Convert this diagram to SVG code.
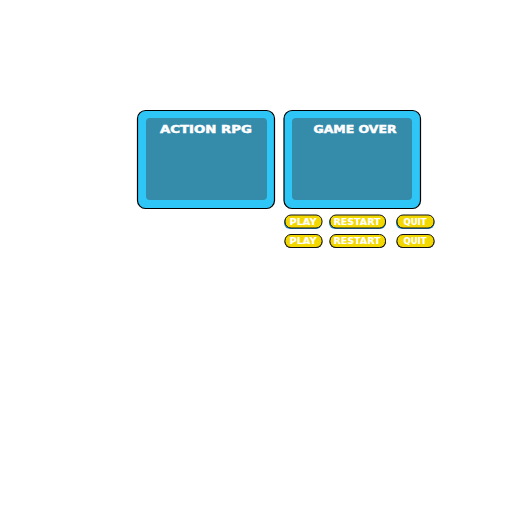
<svg xmlns="http://www.w3.org/2000/svg" width="512" height="512" viewBox="0 0 512 512">
<style>
.outer{fill:#2EC6F6;stroke:#000;stroke-width:1.2}
.inner{fill:#358BAA}
.title{font-family:"DejaVu Sans","Liberation Sans",sans-serif;font-weight:bold;font-size:11px;fill:#fff;stroke:#fff;stroke-width:0.5}
.btn{fill:#F3D800;stroke:#111;stroke-width:1}
.shadowB{fill:#2A8FC8}
.shadowD{fill:#333}
.lbl{font-family:"DejaVu Sans","Liberation Sans",sans-serif;font-weight:bold;font-size:8.5px;fill:#fff;stroke:#fff;stroke-width:0.2}
</style>
<rect width="512" height="512" fill="#fff"/>
<g id="panel-action-rpg">
<rect class="outer" x="137.5" y="110.5" width="137" height="98" rx="8"/>
<rect class="inner" x="146" y="118" width="121" height="82" rx="4"/>
<text class="title" x="206" y="132.5" text-anchor="middle" textLength="92" lengthAdjust="spacingAndGlyphs">ACTION RPG</text>
</g>
<g id="panel-game-over">
<rect class="outer" x="284" y="110.5" width="136.5" height="98" rx="8"/>
<rect class="inner" x="292" y="118" width="120" height="82" rx="4"/>
<text class="title" x="355" y="132.5" text-anchor="middle" textLength="83" lengthAdjust="spacingAndGlyphs">GAME OVER</text>
</g>
<g id="btn-play-1">
<rect class="shadowB" x="284" y="216" width="38" height="13" rx="6"/>
<rect class="btn" x="285" y="215" width="37" height="13" rx="6"/>
<text class="lbl" x="303" y="224.5" text-anchor="middle" textLength="27" lengthAdjust="spacingAndGlyphs">PLAY</text>
</g>
<g id="btn-restart-1">
<rect class="shadowB" x="329" y="216" width="57" height="13" rx="6"/>
<rect class="btn" x="330" y="215" width="55.5" height="13" rx="6"/>
<text class="lbl" x="357" y="224.5" text-anchor="middle" textLength="47" lengthAdjust="spacingAndGlyphs">RESTART</text>
</g>
<g id="btn-quit-1">
<rect class="shadowB" x="396" y="216" width="38.5" height="13" rx="6"/>
<rect class="btn" x="397" y="215" width="37" height="13" rx="6"/>
<text class="lbl" x="415" y="224.5" text-anchor="middle" textLength="23" lengthAdjust="spacingAndGlyphs">QUIT</text>
</g>
<g id="btn-play-2">
<rect class="shadowD" x="284.5" y="235.5" width="38" height="12.5" rx="6"/>
<rect class="btn" x="285" y="234.5" width="37" height="13" rx="6"/>
<text class="lbl" x="303" y="244" text-anchor="middle" textLength="27" lengthAdjust="spacingAndGlyphs">PLAY</text>
</g>
<g id="btn-restart-2">
<rect class="shadowD" x="329.5" y="235.5" width="56.5" height="12.5" rx="6"/>
<rect class="btn" x="330" y="234.5" width="55.5" height="13" rx="6"/>
<text class="lbl" x="357" y="244" text-anchor="middle" textLength="47" lengthAdjust="spacingAndGlyphs">RESTART</text>
</g>
<g id="btn-quit-2">
<rect class="shadowD" x="396.5" y="235.5" width="38" height="12.5" rx="6"/>
<rect class="btn" x="397" y="234.5" width="37" height="13" rx="6"/>
<text class="lbl" x="415" y="244" text-anchor="middle" textLength="23" lengthAdjust="spacingAndGlyphs">QUIT</text>
</g>
<g id="connectors"/>
</svg>
